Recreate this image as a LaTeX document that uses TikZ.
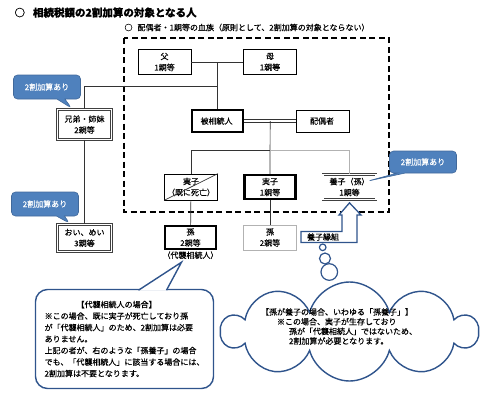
\documentclass[tikz,border=0pt]{standalone}
\usepackage{fontspec}
\setmainfont{Noto Sans CJK JP}[FakeBold=0.4]
\usetikzlibrary{shapes, shapes.callouts, shapes.symbols, calc, positioning}
\definecolor{tagblue}{RGB}{79,129,189}
\definecolor{tagedge}{RGB}{65,105,155}
\definecolor{lineblue}{RGB}{47,84,140}
\colorlet{boxgrey}{black!30!white}
\tikzset{kin/.style={draw, minimum width=53pt, minimum height=25pt, inner sep=1pt, align=center, line width=0.7pt, font=\fontsize{8}{11}\selectfont}}
\tikzset{kinthick/.style={kin, minimum width=51pt, line width=2.4pt}}
\tikzset{kindouble/.style={kin, draw=black!75, double=white, double distance=1.1pt, line width=0.7pt}}
\tikzset{kingrey/.style={kin, draw=boxgrey}}
\tikzset{edge/.style={line width=0.7pt, color=black!80}}
\tikzset{gedge/.style={line width=0.7pt, color=boxgrey}}
\tikzset{kinframe/.style={line width=1.6pt, dash pattern=on 6pt off 3.5pt}}
\tikzset{tag/.style={rectangle callout, rounded corners=4pt, fill=tagblue, draw=tagedge, line width=0.6pt, text=white, minimum width=67pt, minimum height=24pt, callout pointer width=8pt, font=\fontsize{8}{10}\selectfont}}
\tikzset{bluedraw/.style={draw=lineblue, line width=1.4pt}}
\tikzset{bubble/.style={circle, bluedraw, line width=1.2pt, fill=white, inner sep=0pt}}

\begin{document}
\begin{tikzpicture}[x=1pt, y=-1pt]
    \useasboundingbox (0,0) rectangle (482,400);

    \node [anchor=west, font=\fontsize{10.5}{12}\selectfont\bfseries] (title) at (11,12.5) {○\hspace{8pt}相続税額の2割加算の対象となる人};
    \node [anchor=west, font=\fontsize{8}{10}\selectfont] (subtitle) at (121,27.5) {○\hspace{5pt}配偶者・1親等の血族（原則として、2割加算の対象とならない）};

    % 1親等の枠
    \draw [kinframe] (124,38) rectangle (389,212);

    \node [kin]                          (chichi)  at (164.5,62)  { 父\\1親等 };
    \node [kin]                          (haha)    at (270,62)    { 母\\1親等 };
    \node [kinthick, minimum height=22pt] (hi)     at (217.5,121) { 被相続人 };
    \node [kin, minimum height=22pt]     (haigu)   at (323,121)   { 配偶者 };
    \node [kindouble, minimum width=54pt, minimum height=30pt] (kyodai) at (84.5,124.5) { 兄弟・姉妹\\2親等 };
    \node [kindouble, minimum width=54pt, minimum height=27pt] (oimei)  at (84.5,238)   { おい、めい\\3親等 };
    \node [kin, minimum height=26pt]      (jisshi1) at (191,187)   { 実子\\（既に死亡） };
    \node [kinthick, minimum height=24pt] (jisshi2) at (270,187)   { 実子\\1親等 };
    \node [kindouble, minimum height=25pt] (yoshi)  at (349.5,187) { 養子（孫）\\1親等 };
    \node [kinthick, minimum height=23pt] (mago1)   at (190.5,237.5) { 孫\\2親等 };
    \node [kingrey]                       (mago2)   at (270,237.5) { 孫\\2親等 };
    \node [below=0pt of mago1, inner sep=1pt, font=\fontsize{8}{10}\selectfont] (daishu) { （代襲相続人） };

    \coordinate (pm)   at ($(chichi.east)!0.5!(haha.west)$);
    \coordinate (sj)   at (217,86);
    \coordinate (cj)   at ($(hi.east)!0.5!(haigu.west)$);
    \coordinate (kids) at (270,150);

    \draw [edge] (chichi) -- (haha);
    \draw [edge] (pm) -- (pm |- hi.north);
    \draw [edge] (sj) -| (kyodai.north);
    \draw [edge] (kyodai) -- (oimei);
    \draw [edge, double, double distance=1.8pt] (hi) -- (haigu);
    \draw [edge] (cj) -- (jisshi2.north);
    \draw [edge] (kids) -| (jisshi1.north);
    \draw [gedge] (kids) -| (yoshi.north);
    \draw [edge] (jisshi1) -- (mago1);
    \draw [edge] (jisshi2) -- (mago2);
    \draw [edge] (jisshi1.south west) -- (jisshi1.north east);

    % 2割加算あり
    \node [tag, callout absolute pointer={($(kyodai.north)+(-13,-1)$)}] (tag1) at (47,87) { 2割加算あり };
    \node [tag, callout absolute pointer={($(oimei.north)+(-15,-1)$)}] (tag2) at (45,204) { 2割加算あり };
    \node [tag, minimum height=22pt, callout absolute pointer={($(yoshi.north east)+(-9,7)$)}] (tag3) at (423,162) { 2割加算あり };

    % 養子縁組
    \draw [bluedraw, line width=1.3pt, fill=white] (301,231.5) -- (342,231.5) -- (342,215) -- (339,215)
        -- ($(yoshi.south)+(0,3)$) -- (361,215) -- (357,215) -- (357,242.5) -- (301,242.5) -- cycle;
    \node [inner sep=0pt, font=\fontsize{8}{10}\selectfont] (yoshilabel) at (323,237) { 養子縁組 };

    \node [bubble, minimum size=6.6pt]  (bub1) at (322.7,247.3) {};
    \node [bubble, minimum size=11pt]   (bub2) at (325,258.5) {};
    \node [bubble, minimum size=16.6pt] (bub3) at (329.3,272) {};

    \node [cloud, cloud puffs=10, cloud ignores aspect, minimum width=255pt, minimum height=99pt, bluedraw, fill=white] (cloud) at (349.5,331.5) {};
    \node [align=left, inner sep=0pt, font=\fontsize{8}{9.7}\selectfont] (cloudtext) at (339,326.5)
        {【孫が養子の場合、いわゆる「孫養子」】\\\hspace*{16pt}※この場合、実子が生存しており\\\hspace*{28pt}孫が「代襲相続人」ではないため、\\\hspace*{28pt}2割加算が必要となります。};

    % 代襲相続人の場合
    \node [bluedraw, rounded corners=12pt, fill=white, minimum width=178pt, minimum height=99pt, align=left, font=\fontsize{8}{11.5}\selectfont] (rule) at (124.5,339)
        {\hspace*{32pt}【代襲相続人の場合】\\※この場合、既に実子が死亡しており孫\\が「代襲相続人」のため、2割加算は必要\\ありません。\\上記の者が、右のような「孫養子」の場合\\でも、「代襲相続人」に該当する場合には、\\2割加算は不要となります。};
    \coordinate (ruletip) at ($(daishu.south)+(-9,2)$);
    \fill [white] ($(rule.north)+(14,1.6)$) -- (ruletip) -- ($(rule.north)+(42,1.6)$) -- cycle;
    \draw [bluedraw, line join=miter] ($(rule.north)+(14,1.4)$) -- (ruletip) -- ($(rule.north)+(42,1.4)$);
\end{tikzpicture}
\end{document}
